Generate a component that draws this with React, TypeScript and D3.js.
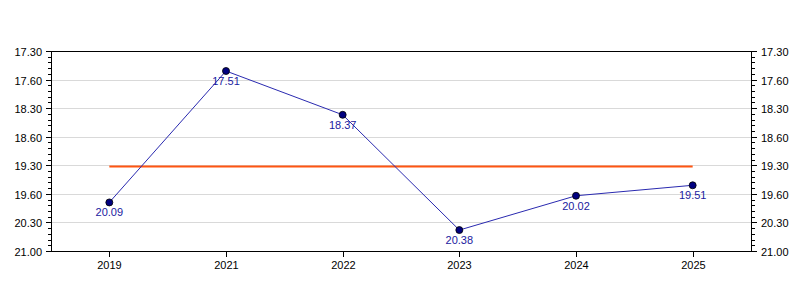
import React from "react";
import * as d3 from "d3";

const years = ["2019", "2021", "2022", "2023", "2024", "2025"];
// values in mm.ss
const times = ["20.09", "17.51", "18.37", "20.38", "20.02", "19.51"];
const tickLabels = ["17.30", "17.60", "18.30", "18.60", "19.30", "19.60", "20.30", "21.00"];
const tickMinutes = [17.5, 18, 18.5, 19, 19.5, 20, 20.5, 21];

const toMinutes = (s: string) => {
  const [m, sec] = s.split(".");
  return +m + +sec / 60;
};

const W = 800, H = 300;
const L = 51, R = 751, T = 51, B = 251;
const font = "'Liberation Sans', Arial, sans-serif";

export default function App() {
  const x = d3.scaleBand<string>().domain(years).range([L, R]);
  const y = d3.scaleLinear().domain([17.5, 21]).range([T, B]);
  const vals = times.map(toMinutes);
  const mean = d3.mean(vals) as number;
  const cx = (d: string) => (x(d) as number) + x.bandwidth() / 2;
  const line = d3
    .line<number>()
    .x((_, i) => cx(years[i]))
    .y((v) => y(v));
  const minor = d3.range(17.5, 21.0001, 0.1).filter((v) => Math.abs(v * 2 - Math.round(v * 2)) > 1e-6);

  return (
    <svg width={W} height={H} style={{ position: "absolute", left: 0, top: 0, fontFamily: font }}>
      <rect x={0} y={0} width={W} height={H} fill="#fff" />
      {tickMinutes.map((t, i) => (
        <line key={"g" + i} x1={L} x2={R} y1={Math.round(y(t)) + 0.5} y2={Math.round(y(t)) + 0.5} stroke="#d9d9d9" />
      ))}
      <rect x={L + 0.5} y={T + 0.5} width={R - L} height={B - T} fill="none" stroke="#000" />
      {tickMinutes.map((t, i) => {
        const yy = Math.round(y(t)) + 0.5;
        return (
          <g key={"t" + i}>
            <line x1={L - 5} x2={L} y1={yy} y2={yy} stroke="#000" />
            <line x1={R + 1} x2={R + 6} y1={yy} y2={yy} stroke="#000" />
            <text x={L - 9} y={yy + 4} textAnchor="end" fontSize={11} fill="#000">{tickLabels[i]}</text>
            <text x={R + 10} y={yy + 4} textAnchor="start" fontSize={11} fill="#000">{tickLabels[i]}</text>
          </g>
        );
      })}
      {minor.map((t, i) => {
        const yy = Math.round(y(t)) + 0.5;
        return (
          <g key={"m" + i}>
            <line x1={L - 3} x2={L} y1={yy} y2={yy} stroke="#000" />
            <line x1={R + 1} x2={R + 4} y1={yy} y2={yy} stroke="#000" />
          </g>
        );
      })}
      {years.map((yr) => {
        const xx = Math.round(cx(yr)) + 0.5;
        return (
          <g key={yr}>
            <line x1={xx} x2={xx} y1={B + 1} y2={B + 6} stroke="#000" />
            <text x={xx} y={B + 18} textAnchor="middle" fontSize={11} fill="#000">{yr}</text>
          </g>
        );
      })}
      <line x1={cx(years[0])} x2={cx(years[years.length - 1])} y1={y(mean)} y2={y(mean)} stroke="#ff5511" strokeWidth={2} />
      <path d={line(vals) as string} fill="none" stroke="#2a2ab0" strokeWidth={1} />
      {vals.map((v, i) => (
        <g key={"p" + i}>
          <circle cx={cx(years[i])} cy={y(v)} r={3.5} fill="#000080" stroke="#000" strokeWidth={0.8} />
          <text x={cx(years[i])} y={y(v) + 14} textAnchor="middle" fontSize={11} fill="#1a1aa0">{times[i]}</text>
        </g>
      ))}
    </svg>
  );
}
